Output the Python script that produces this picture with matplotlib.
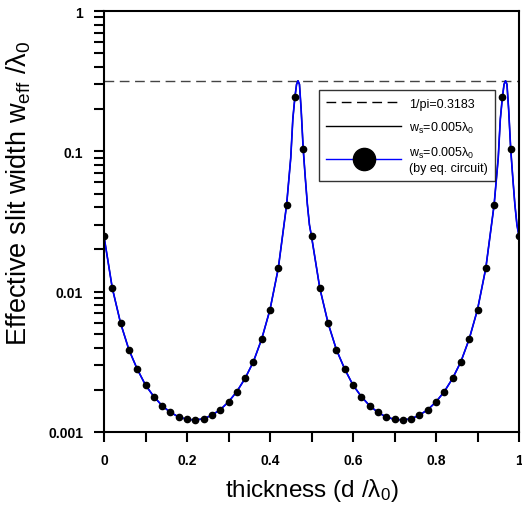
import numpy as np
import matplotlib
matplotlib.use('Agg')
import matplotlib.pyplot as plt
from matplotlib.lines import Line2D
from matplotlib.ticker import FixedLocator, FixedFormatter, LogLocator, NullFormatter

plt.rcParams['font.family'] = ['Liberation Sans', 'DejaVu Sans']
plt.rcParams['mathtext.default'] = 'regular'

# values (dots every 0.02 in d/lambda0)
thickness = [0.00, 0.02, 0.04, 0.06, 0.08, 0.10, 0.12, 0.14, 0.16, 0.18,
             0.20, 0.22, 0.24, 0.26, 0.28, 0.30, 0.32, 0.34, 0.36, 0.38,
             0.40, 0.42, 0.44, 0.46, 0.48, 0.50, 0.52, 0.54, 0.56, 0.58,
             0.60, 0.62, 0.64, 0.66, 0.68, 0.70, 0.72, 0.74, 0.76, 0.78,
             0.80, 0.82, 0.84, 0.86, 0.88, 0.90, 0.92, 0.94, 0.96, 0.98, 1.00]
w_eff = [0.0248, 0.0106, 0.00596, 0.00386, 0.00281, 0.00216, 0.00179, 0.00154, 0.00138, 0.00128,
         0.00123, 0.00122, 0.00124, 0.00132, 0.00144, 0.00164, 0.00194, 0.00241, 0.00317, 0.0046,
         0.00745, 0.0147, 0.0415, 0.243, 0.104,
         0.0248, 0.0106, 0.00596, 0.00386, 0.00281, 0.00216, 0.00179, 0.00154, 0.00138, 0.00128,
         0.00123, 0.00122, 0.00124, 0.00132, 0.00144, 0.00164, 0.00194, 0.00241, 0.00317, 0.0046,
         0.00745, 0.0147, 0.0415, 0.243, 0.104, 0.0248]

# extra points of the continuous curve around the resonance peaks
peak_x = [0.450, 0.455, 0.464, 0.4675, 0.471, 0.475, 0.485, 0.490, 0.495,
          0.950, 0.955, 0.964, 0.9675, 0.971, 0.975, 0.985, 0.990, 0.995]
peak_y = [0.090, 0.170, 0.300, 0.3183, 0.300, 0.200, 0.065, 0.042, 0.030,
          0.090, 0.170, 0.300, 0.3183, 0.300, 0.200, 0.065, 0.042, 0.030]

limit = 1 / np.pi

line_x = np.concatenate([thickness, peak_x])
line_y = np.concatenate([w_eff, peak_y])
order = np.argsort(line_x)
line_x, line_y = line_x[order], line_y[order]

fig = plt.figure(figsize=(5.22, 5.10), dpi=100)
ax = fig.add_axes([104 / 522, 1 - 433 / 510, 415 / 522, 421 / 510])

ax.axhline(limit, color='#444444', lw=1.0, dashes=(7, 4))
ax.plot(line_x, line_y, color='black', lw=1.0)
ax.plot(line_x, line_y, color='#0000ff', lw=1.2)
ax.plot(thickness, w_eff, 'o', color='black', ms=4.5, ls='none')

ax.set_yscale('log')
ax.set_xlim(0, 1)
ax.set_ylim(0.001, 1)

ax.xaxis.set_major_locator(FixedLocator([0, 0.2, 0.4, 0.6, 0.8, 1.0]))
ax.xaxis.set_major_formatter(FixedFormatter(['0', '0.2', '0.4', '0.6', '0.8', '1']))
ax.xaxis.set_minor_locator(FixedLocator([0.1, 0.3, 0.5, 0.7, 0.9]))
ax.yaxis.set_major_locator(FixedLocator([0.001, 0.01, 0.1, 1]))
ax.yaxis.set_major_formatter(FixedFormatter(['0.001', '0.01', '0.1', '1']))
ax.yaxis.set_minor_locator(LogLocator(base=10, subs=np.arange(2, 10)))
ax.yaxis.set_minor_formatter(NullFormatter())

ax.tick_params(which='both', direction='out', width=1.5, length=7)
ax.tick_params(axis='both', which='major', pad=8, labelsize=10)
for lab in ax.get_xticklabels() + ax.get_yticklabels():
    lab.set_fontweight('bold')
for sp in ax.spines.values():
    sp.set_linewidth(1.5)

fig.text(311.5 / 522, 1 - 491 / 510, 'thickness (d /λ$_0$)', fontsize=17.5,
         ha='center', va='center')
fig.text(19 / 522, 1 - 193 / 510, 'Effective slit width w$_{eff}$ /λ$_0$',
         rotation=90, fontsize=19.5, ha='center', va='center')

handles = [
    Line2D([], [], color='black', lw=1.0, dashes=(7, 4)),
    Line2D([], [], color='black', lw=1.0),
    Line2D([], [], color='#0000ff', lw=1.0, marker='o', ms=16, mfc='black', mec='black'),
]
labels = ['1/pi=0.3183', 'w$_s$=0.005λ$_0$', 'w$_s$=0.005λ$_0$\n(by eq. circuit)']
leg = ax.legend(handles, labels, loc='upper left', bbox_to_anchor=(0.518, 0.812),
                borderaxespad=0, fontsize=9, handlelength=6.0, frameon=True,
                fancybox=False, borderpad=0.6, labelspacing=0.8, handletextpad=0.6)
leg.get_frame().set_edgecolor('black')
leg.get_frame().set_linewidth(1.0)

fig.savefig('out.png', dpi=100)
